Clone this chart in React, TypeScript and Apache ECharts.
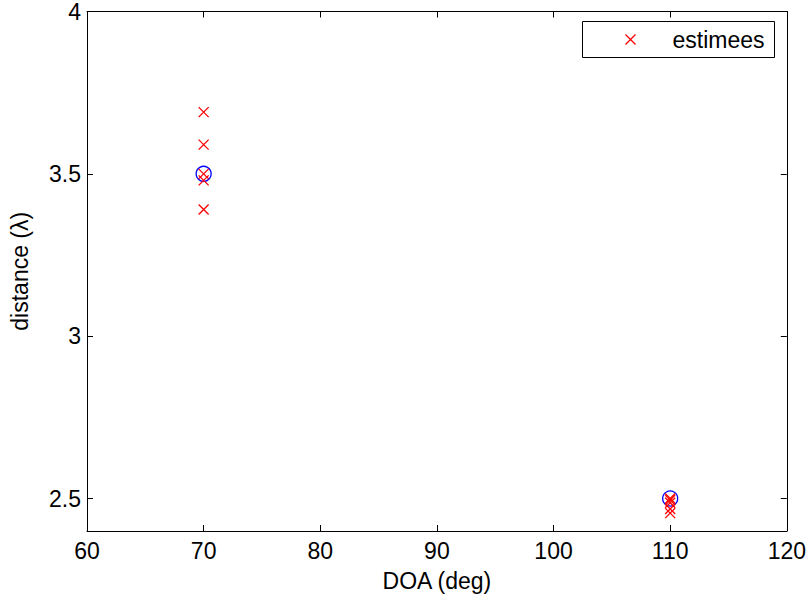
import React, { useEffect, useRef } from "react";
import * as echarts from "echarts";

// true source positions (blue circles)
const trueDOA = [70, 110];
const trueDist = [3.5, 2.5];

// estimated positions (red crosses)
const estDOA = [70, 70, 70, 70, 70, 110, 110, 110, 110, 110];
const estDist = [3.69, 3.59, 3.5, 3.48, 3.39, 2.5, 2.495, 2.487, 2.468, 2.455];

const xTicks = [60, 70, 80, 90, 100, 110, 120];
const yTicks = [2.5, 3, 3.5, 4];

const FONT = '"Liberation Sans", Arial, Helvetica, sans-serif';
const FS = 23;
const CROSS = "path://M0,0L10,10M10,0L0,10";

export default function App() {
  const ref = useRef<HTMLDivElement>(null);
  useEffect(() => {
    if (!ref.current) return;
    const chart = echarts.init(ref.current, null, { renderer: "svg" });
    const baseX = {
      type: "value",
      min: 60,
      max: 120,
      interval: 10,
      splitLine: { show: false },
      axisLine: { show: true, onZero: false, lineStyle: { color: "#000", width: 1 } },
      axisTick: { show: true, inside: true, length: 6, lineStyle: { color: "#000" } },
    };
    const baseY = {
      type: "value",
      min: 2.4,
      max: 4,
      splitLine: { show: false },
      axisLine: { show: true, onZero: false, lineStyle: { color: "#000", width: 1 } },
      axisTick: {
        show: true,
        inside: true,
        length: 6,
        customValues: yTicks,
        lineStyle: { color: "#000" },
      },
    };
    chart.setOption({
      animation: false,
      backgroundColor: "#fff",
      textStyle: { fontFamily: FONT },
      grid: { left: 84, right: 20, top: 10, bottom: 67, containLabel: false },
      xAxis: [
        {
          ...baseX,
          position: "bottom",
          name: "DOA (deg)",
          nameLocation: "middle",
          nameGap: 38,
          nameTextStyle: { fontSize: FS, color: "#000", fontFamily: FONT },
          axisLabel: {
            show: true,
            customValues: xTicks,
            margin: 8,
            fontSize: FS,
            color: "#000",
            fontFamily: FONT,
          },
        },
        { ...baseX, position: "top", axisLabel: { show: false } },
      ],
      yAxis: [
        {
          ...baseY,
          position: "left",
          name: "distance (\u03bb)",
          nameLocation: "middle",
          nameGap: 56,
          nameTextStyle: { fontSize: FS, color: "#000", fontFamily: FONT },
          axisLabel: {
            show: true,
            customValues: yTicks,
            margin: 6,
            fontSize: FS,
            color: "#000",
            fontFamily: FONT,
          },
        },
        { ...baseY, position: "right", axisLabel: { show: false } },
      ],
      series: [
        {
          name: "vraies",
          type: "scatter",
          symbol: "circle",
          symbolSize: 15,
          itemStyle: { color: "transparent", borderColor: "#0000ff", borderWidth: 1.3, opacity: 1 },
          data: trueDOA.map((x, i) => [x, trueDist[i]]),
        },
        {
          name: "estimees",
          type: "scatter",
          symbol: CROSS,
          symbolSize: 10,
          itemStyle: { color: "none", borderColor: "#ff0000", borderWidth: 1.3, opacity: 1 },
          data: estDOA.map((x, i) => [x, estDist[i]]),
        },
      ],
      graphic: [
        {
          type: "group",
          left: 582,
          top: 21,
          children: [
            {
              type: "rect",
              shape: { x: 0, y: 0, width: 192, height: 36 },
              style: { fill: "#fff", stroke: "#000", lineWidth: 1 },
            },
            {
              type: "line",
              shape: { x1: 43, y1: 13, x2: 53, y2: 23 },
              style: { stroke: "#ff0000", lineWidth: 1.3 },
            },
            {
              type: "line",
              shape: { x1: 53, y1: 13, x2: 43, y2: 23 },
              style: { stroke: "#ff0000", lineWidth: 1.3 },
            },
            {
              type: "text",
              x: 90,
              y: 18,
              style: {
                text: "estimees",
                fontSize: FS,
                fontFamily: FONT,
                fill: "#000",
                verticalAlign: "middle",
              },
            },
          ],
        },
      ],
    });
    return () => chart.dispose();
  }, []);
  return <div ref={ref} style={{ width: 809, height: 598, position: "absolute", left: 0, top: 0 }} />;
}
